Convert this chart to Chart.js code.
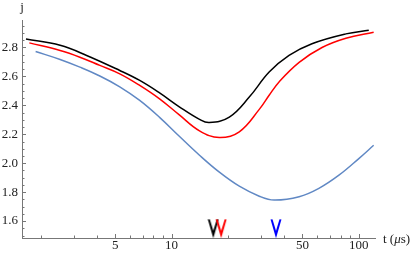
<!DOCTYPE html>
<html>
<head>
<meta charset="utf-8">
<script src="https://cdn.jsdelivr.net/npm/chart.js@4.4.1/dist/chart.umd.min.js"></script>
<style>
  html, body { margin: 0; padding: 0; background: #fff; }
</style>
</head>
<body>
<canvas id="chart" width="415" height="257"></canvas>
<script>
// ---- data ----
const blackT = [1.67, 2.54, 3.52, 5.29, 6.76, 8.63, 11.0, 14.1, 15.9, 20.35, 26.0, 33.2, 42.4, 56.2, 85.3, 113];
const blackJ = [2.858, 2.815, 2.745, 2.641, 2.572, 2.486, 2.390, 2.303, 2.281, 2.319, 2.457, 2.630, 2.745, 2.826, 2.894, 2.919];

const redT = [1.74, 2.54, 3.24, 4.14, 5.29, 6.76, 8.63, 11.0, 14.1, 18.0, 23.0, 29.4, 33.2, 37.5, 48.0, 63.6, 85.3, 120];
const redJ = [2.832, 2.779, 2.733, 2.676, 2.618, 2.538, 2.445, 2.334, 2.224, 2.177, 2.217, 2.372, 2.470, 2.562, 2.697, 2.800, 2.864, 2.906];

const blueT = [1.88, 2.54, 3.24, 4.14, 5.29, 6.76, 8.63, 11.0, 14.1, 18.0, 23.0, 29.4, 35.3, 48.0, 61.2, 78.3, 100, 120];
const blueJ = [2.772, 2.717, 2.664, 2.603, 2.528, 2.434, 2.317, 2.186, 2.055, 1.938, 1.841, 1.772, 1.745, 1.768, 1.826, 1.917, 2.032, 2.124];

// arrow markers (positions of minima)
const arrowT = [16.7, 18.4, 36.1];
const arrowColors = ["#000000", "#ff0000", "#0000ff"];

// tick labels
const xTickLabels = [5, 10, 50, 100];
const yTickLabels = [1.6, 1.8, 2.0, 2.2, 2.4, 2.6, 2.8];

const AXIS = "#777777";
const FONT = "'Liberation Serif', 'DejaVu Serif', serif";

function pts(xs, ys) {
  return xs.map((x, i) => ({ x: x, y: ys[i] }));
}

// V shaped arrow head as point style
function makeArrow(color) {
  const c = document.createElement("canvas");
  c.width = 12;
  c.height = 20;
  const g = c.getContext("2d");
  g.fillStyle = color;
  g.beginPath();
  g.moveTo(0.5, 0.5);
  g.lineTo(6, 19.5);
  g.lineTo(11.5, 0.5);
  g.lineTo(9.5, 0.5);
  g.lineTo(6, 12);
  g.lineTo(2.5, 0.5);
  g.closePath();
  g.fill();
  return c;
}

// inward tick marks + axis titles, Mathematica style
const axisDecor = {
  id: "axisDecor",
  afterDraw(chart) {
    const { ctx, chartArea, scales } = chart;
    const xs = scales.x, ys = scales.y;
    ctx.save();
    ctx.strokeStyle = AXIS;
    ctx.lineWidth = 1;
    ctx.beginPath();
    // x ticks
    for (let dec = 1; dec <= 100; dec *= 10) {
      for (let m = 1; m <= 9; m++) {
        const v = m * dec;
        if (v < xs.min || v > xs.max) continue;
        const px = Math.round(xs.getPixelForValue(v)) + 0.5;
        const len = xTickLabels.includes(v) ? 4 : 2.5;
        ctx.moveTo(px, chartArea.bottom);
        ctx.lineTo(px, chartArea.bottom - len);
      }
    }
    // y ticks
    for (let k = 30; k <= 59; k++) {
      const v = k * 0.05;
      if (v < ys.min || v > ys.max) continue;
      const py = Math.round(ys.getPixelForValue(v)) + 0.5;
      const len = k % 4 === 0 ? 4 : 2.5;
      ctx.moveTo(chartArea.left, py);
      ctx.lineTo(chartArea.left + len, py);
    }
    ctx.stroke();

    ctx.fillStyle = "#222";
    ctx.font = "13px " + FONT;
    ctx.textAlign = "center";
    ctx.textBaseline = "middle";
    ctx.fillText("j", chartArea.left, 8);

    ctx.textAlign = "left";
    let x = chartArea.right + 8;
    const y = chartArea.bottom + 2;
    ctx.fillText("t (", x, y);
    x += ctx.measureText("t (").width;
    ctx.font = "italic 13px " + FONT;
    ctx.fillText("\u03bc", x, y);
    x += ctx.measureText("\u03bc").width;
    ctx.font = "13px " + FONT;
    ctx.fillText("s)", x, y);
    ctx.restore();
  }
};

const curve = { borderWidth: 1.5, pointRadius: 0, tension: 0.4, fill: false };

new Chart(document.getElementById("chart"), {
  type: "line",
  data: {
    datasets: [
      { ...curve, data: pts(blackT, blackJ), borderColor: "#000000" },
      { ...curve, data: pts(redT, redJ), borderColor: "#ff0000" },
      { ...curve, data: pts(blueT, blueJ), borderColor: "#6088c4" },
      {
        type: "scatter",
        data: arrowT.map((t) => ({ x: t, y: 1.547 })),
        pointStyle: arrowColors.map(makeArrow),
        pointRadius: 6,
        showLine: false,
        clip: false
      }
    ]
  },
  options: {
    responsive: false,
    animation: false,
    layout: { padding: { top: 20, right: 40, left: 0, bottom: 0 } },
    plugins: { legend: { display: false }, tooltip: { enabled: false } },
    scales: {
      x: {
        type: "logarithmic",
        min: 1.59,
        max: 122,
        afterBuildTicks: (s) => { s.ticks = xTickLabels.map((v) => ({ value: v })); },
        afterFit: (s) => { s.height = 19; },
        grid: { display: false, drawTicks: false },
        border: { display: true, color: AXIS, width: 1 },
        ticks: {
          autoSkip: false,
          maxRotation: 0,
          padding: 0,
          color: "#222",
          font: { family: FONT, size: 13 },
          callback: (v) => String(v)
        }
      },
      y: {
        type: "linear",
        min: 1.483,
        max: 2.99,
        afterBuildTicks: (s) => { s.ticks = yTickLabels.map((v) => ({ value: v })); },
        afterFit: (s) => { s.width = 22; },
        grid: { display: false, drawTicks: false },
        border: { display: true, color: AXIS, width: 1 },
        ticks: {
          autoSkip: false,
          padding: 4,
          color: "#222",
          font: { family: FONT, size: 13 },
          callback: (v) => v.toFixed(1)
        }
      }
    }
  },
  plugins: [axisDecor]
});
</script>
</body>
</html>
